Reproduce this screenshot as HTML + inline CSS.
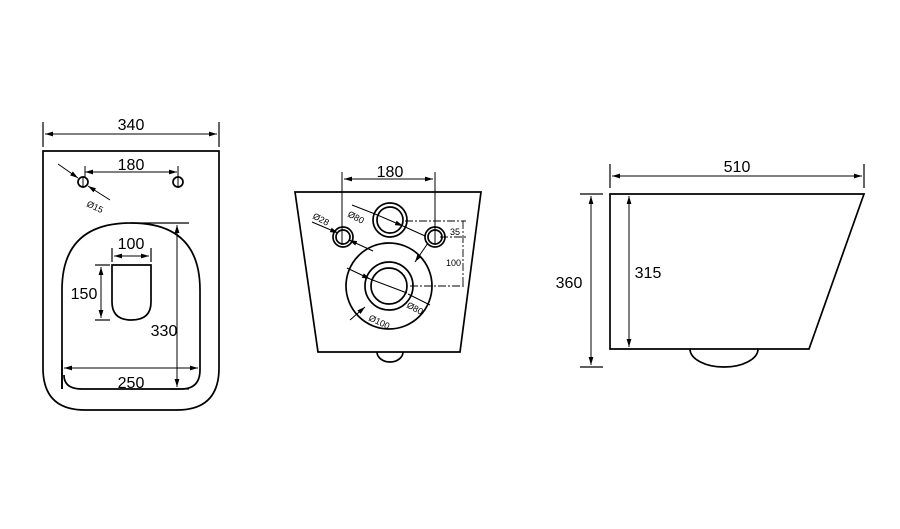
<!DOCTYPE html>
<html><head><meta charset="utf-8"><style>body{margin:0;background:#fff}svg{display:block}</style></head><body>
<svg width="900" height="529" viewBox="0 0 900 529" xmlns="http://www.w3.org/2000/svg" font-family="Liberation Sans, Arial, sans-serif">
<defs>
<marker id="a" viewBox="0 0 10 6" refX="10" refY="3" markerWidth="8" markerHeight="5" orient="auto-start-reverse" markerUnits="userSpaceOnUse"><path d="M0,0L10,3L0,6z" fill="#000"/></marker>
</defs>
<g fill="none" stroke="#000" stroke-width="1.7">
<!-- LEFT VIEW -->
<path d="M43,151H219V368Q219,410 177,410H85Q43,410 43,368Z"/>
<line x1="43" y1="122" x2="43" y2="147" stroke-width="1.2"/>
<line x1="219" y1="122" x2="219" y2="147" stroke-width="1.2"/>
<line x1="45" y1="134" x2="217" y2="134" stroke-width="1" marker-start="url(#a)" marker-end="url(#a)"/>
<circle cx="83" cy="182" r="5"/><circle cx="178" cy="182" r="5"/>
<line x1="83" y1="176" x2="83" y2="188" stroke-width="1"/><line x1="178" y1="176" x2="178" y2="188" stroke-width="1"/>
<line x1="85" y1="172" x2="177" y2="172" stroke-width="1" marker-start="url(#a)" marker-end="url(#a)"/>
<line x1="85" y1="166" x2="85" y2="178" stroke-width="1"/><line x1="178" y1="166" x2="178" y2="178" stroke-width="1"/>
<line x1="58" y1="164" x2="78" y2="178" stroke-width="1" marker-end="url(#a)"/>
<line x1="110" y1="200" x2="88" y2="186" stroke-width="1" marker-end="url(#a)"/>
<path d="M62,389V290Q62,223 131,223Q200,223 200,290V370Q200,389 181,389H82Q64,389 64,375"/>
<line x1="62" y1="360" x2="62" y2="389" stroke-width="1.7"/>
<line x1="131" y1="223" x2="189" y2="223" stroke-width="1.2"/>
<line x1="170" y1="389" x2="189" y2="389" stroke-width="1.2"/>
<line x1="177" y1="225" x2="177" y2="387" stroke-width="1" marker-start="url(#a)" marker-end="url(#a)"/>
<line x1="64" y1="368" x2="198" y2="368" stroke-width="1" marker-start="url(#a)" marker-end="url(#a)"/>
<path d="M112,265H151V302Q151,320 131.5,320Q112,320 112,302Z"/>
<line x1="112" y1="248" x2="112" y2="262" stroke-width="1.2"/><line x1="151" y1="248" x2="151" y2="262" stroke-width="1.2"/>
<line x1="114" y1="256" x2="149" y2="256" stroke-width="1" marker-start="url(#a)" marker-end="url(#a)"/>
<line x1="95" y1="265" x2="110" y2="265" stroke-width="1.2"/><line x1="95" y1="320" x2="110" y2="320" stroke-width="1.2"/>
<line x1="101" y1="267" x2="101" y2="318" stroke-width="1" marker-start="url(#a)" marker-end="url(#a)"/>

<!-- MIDDLE VIEW -->
<path d="M295,192H481L460,352H318Z"/>
<path d="M377,352A13,10 0 0 0 403,352"/>
<line x1="342" y1="172" x2="342" y2="245" stroke-width="1"/><line x1="435" y1="172" x2="435" y2="245" stroke-width="1"/>
<line x1="344" y1="179" x2="433" y2="179" stroke-width="1" marker-start="url(#a)" marker-end="url(#a)"/>
<circle cx="343" cy="237" r="10"/><circle cx="343" cy="237" r="7"/>
<circle cx="435" cy="237" r="10"/><circle cx="435" cy="237" r="7"/>
<circle cx="390" cy="220" r="17"/><circle cx="390" cy="220" r="13"/>
<circle cx="389" cy="286" r="43"/><circle cx="389" cy="286" r="24"/><circle cx="389" cy="286" r="18"/>
<g stroke-width="0.9" stroke-dasharray="8,2,2,2">
<line x1="405" y1="221" x2="466" y2="221"/><line x1="440" y1="237" x2="466" y2="237"/>
<line x1="410" y1="286" x2="466" y2="286"/><line x1="463" y1="221" x2="463" y2="287"/>
</g>
<g stroke-width="1">
<line x1="312" y1="222" x2="338" y2="233" marker-end="url(#a)"/>
<line x1="373" y1="251" x2="349" y2="240" marker-end="url(#a)"/>
<line x1="352" y1="205" x2="375" y2="214"/><line x1="375" y1="214" x2="403" y2="226" marker-end="url(#a)"/><line x1="403" y1="226" x2="425" y2="236"/>
<line x1="347" y1="268" x2="370" y2="279" marker-end="url(#a)"/><line x1="370" y1="279" x2="407" y2="293"/>
<line x1="408" y1="294" x2="430" y2="305"/>
<line x1="428" y1="243" x2="415" y2="262" marker-end="url(#a)"/>
<line x1="350" y1="320" x2="365" y2="307" marker-end="url(#a)"/>
</g>

<!-- RIGHT VIEW -->
<path d="M610,194H864L809,349H610Z"/>
<path d="M690,349A34,18 0 0 0 758,349"/>
<line x1="610" y1="164" x2="610" y2="188" stroke-width="1.2"/><line x1="864" y1="164" x2="864" y2="188" stroke-width="1.2"/>
<line x1="612" y1="176" x2="862" y2="176" stroke-width="1" marker-start="url(#a)" marker-end="url(#a)"/>
<line x1="580" y1="194" x2="603" y2="194" stroke-width="1.2"/><line x1="580" y1="367" x2="603" y2="367" stroke-width="1.2"/>
<line x1="591" y1="196" x2="591" y2="365" stroke-width="1" marker-start="url(#a)" marker-end="url(#a)"/>
<line x1="629" y1="196" x2="629" y2="347" stroke-width="1" marker-start="url(#a)" marker-end="url(#a)"/>
</g>
<g fill="#000" font-size="16" text-anchor="middle">
<text x="131" y="130">340</text>
<text x="131" y="170">180</text>
<text x="131" y="249">100</text>
<text x="84" y="299">150</text>
<text x="164" y="336">330</text>
<text x="131" y="388">250</text>
<text x="390" y="177">180</text>
<text x="737" y="172">510</text>
<text x="569" y="288">360</text>
<text x="648" y="278">315</text>
</g>
<g fill="#000" font-size="9">
<text x="86" y="206" transform="rotate(25 86 206)">Ø15</text>
<text x="312" y="218" transform="rotate(28 312 218)">Ø28</text>
<text x="347" y="216" transform="rotate(28 347 216)">Ø80</text>
<text x="406" y="307" transform="rotate(28 406 307)">Ø80</text>
<text x="368" y="320" transform="rotate(25 368 320)">Ø100</text>
<text x="450" y="235">35</text>
<text x="446" y="266">100</text>
</g>
</svg>
</body></html>
